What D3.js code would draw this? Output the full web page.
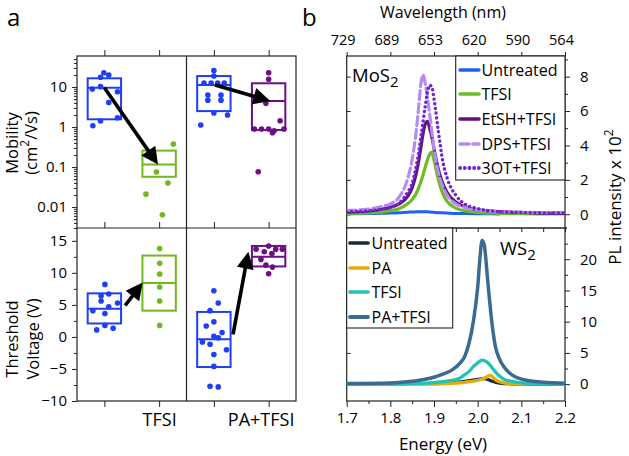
<!DOCTYPE html>
<html><head><meta charset="utf-8">
<script src="https://cdn.jsdelivr.net/npm/d3@7"></script>
<style>body{margin:0;background:#fff}svg text{font-family:"Open Sans","Noto Sans",sans-serif;fill:#000}</style>
</head><body><svg id="c" width="629" height="456"></svg>
<script>
// ---------- Panel a data ----------
const groupNames = ["Untreated", "TFSI", "Untreated", "PA+TFSI"];
const groupColors = ["#1f3ff4", "#70b81f", "#1f3ff4", "#6c1088"];
const xCategoryLabels = ["", "TFSI", "", "PA+TFSI"];
// [jitter (category units), value]
const mobUntreated1 = [[-0.01,22.8],[0.08,20],[-0.07,17.5],[-0.22,8.9],[-0.07,10.2],[0.24,7.6],[0.08,4.1],[-0.07,1.41],[0.24,1.7],[-0.21,1.08]];
const mobTFSI = [[0.26,0.376],[-0.05,0.075],[0.16,0.04],[-0.24,0.021],[0.06,0.0064]];
const mobUntreated2 = [[0,25.9],[0,18.8],[-0.18,12.6],[-0.05,12.6],[0.07,12.6],[0.19,12.6],[-0.11,6.3],[-0.11,4.7],[0.13,6.3],[0.13,4.7],[0,2.24],[0.25,2.0],[-0.24,1.12]];
const mobPATFSI = [[0,22.8],[0,15.6],[-0.05,3.9],[0.21,1.43],[-0.26,0.89],[-0.13,0.89],[0,0.89],[0.1,0.81],[0.07,0.72],[0.28,0.89],[-0.19,0.076]];
const mobBoxes = [[1.56,9.6,16.5],[0.057,0.115,0.257],[2.5,11.2,18.8],[0.84,4.5,12.4]];
const mobArrows = [[[0,9.6],[0.98,0.115]],[[2.02,11.2],[3.03,4.5]]];
const mobTicks = [0.01,0.1,1,10];
const mobTickLabels = ["0.01","0.1","1","10"];

const vtUntreated1 = [[0.01,8.2],[-0.06,6.4],[0.08,6.7],[-0.06,5.6],[0.24,5.3],[0.08,4.7],[-0.21,4.1],[0.01,3.65],[0.01,1.8],[-0.14,1.1],[0.16,1.35]];
const vtTFSI = [[0.01,13.8],[0.01,11.5],[0.01,9.8],[0.01,7.8],[0.01,5.6],[0.01,1.8]];
const vtUntreated2 = [[0,7.2],[0.08,5.3],[-0.07,4.1],[0,2.35],[-0.14,1.7],[0.15,0.7],[0,0.1],[0.08,-0.15],[-0.21,-0.8],[-0.07,-1.14],[0.23,-2],[0,-2.75],[0,-4.6],[-0.07,-7.7],[0.08,-7.8]];
const vtPATFSI = [[-0.23,13.7],[-0.08,13.3],[0,14.2],[0.13,13.7],[0.25,13.7],[0.06,13.0],[-0.14,12.1],[-0.05,11.2],[0.07,10.9],[0,9.85]];
const vtBoxes = [[2.1,4.4,6.8],[4.1,8.4,12.7],[-4.7,-0.36,3.9],[11.0,12.5,14.2]];
const vtArrows = [[[0.38,4.9],[0.70,8.5]],[[2.35,0.4],[2.63,13.3]]];
const vtTicks = [-10,-5,0,5,10,15];

// ---------- Panel b data ----------
const energyTicks = [1.7,1.8,1.9,2.0,2.1,2.2];
const wavelengthLabels = ["729","689","653","620","590","564"];
const mosEnergy = [1.70,1.75,1.78,1.80,1.82,1.84,1.85,1.86,1.865,1.87,1.875,1.88,1.885,1.89,1.895,1.90,1.91,1.92,1.93,1.95,1.97,2.00,2.05,2.10,2.15,2.20];
const mosUntreated = [0.02,0.04,0.06,0.07,0.09,0.12,0.13,0.14,0.15,0.15,0.15,0.14,0.14,0.13,0.12,0.11,0.09,0.08,0.07,0.05,0.04,0.03,0.02,null,null,null];
const mosTFSI = [0.05,0.08,0.12,0.2,0.32,0.62,0.85,1.25,1.55,1.9,2.3,2.75,3.15,3.5,3.6,3.15,2.0,1.2,0.75,0.36,0.2,0.1,0.05,0.03,0.02,0.02];
const mosEtSH = [0.12,0.2,0.3,0.4,0.6,1.05,1.55,2.45,3.1,3.9,4.7,5.25,5.4,5.0,4.5,3.8,2.6,1.8,1.26,0.71,0.44,0.26,0.15,0.1,0.07,0.05];
const mosDPS = [0.22,0.3,0.45,0.6,1.0,2.1,3.2,5.0,6.3,7.6,8.1,7.6,6.8,5.8,4.8,3.8,2.4,1.6,1.1,0.6,0.4,0.25,0.15,0.12,0.1,0.1];
const mos3OT = [0.15,0.2,0.3,0.4,0.65,1.3,1.8,2.9,3.6,4.5,5.4,6.3,7.1,7.5,7.4,6.7,4.8,3.1,2.1,1.1,0.6,0.33,0.15,0.1,0.08,0.07];
const mosNames = ["Untreated","TFSI","EtSH+TFSI","DPS+TFSI","3OT+TFSI"];
const mosColors = ["#2160f0","#6abd22","#5f1578","#b98af0","#7024d2"];

const wsEnergy = [1.70,1.80,1.85,1.90,1.92,1.94,1.96,1.97,1.98,1.99,2.00,2.005,2.01,2.015,2.02,2.025,2.03,2.035,2.04,2.05,2.06,2.07,2.08,2.10,2.15,2.20];
const wsUntreated = [0.03,0.05,0.07,0.1,0.14,0.2,0.35,0.45,0.55,0.65,0.75,0.82,0.87,0.9,0.85,0.7,0.55,0.42,0.32,0.18,0.1,0.07,0.05,0.03,0.02,0.02];
const wsPA = [0.03,0.04,0.04,0.05,0.08,0.12,0.22,0.3,0.4,0.5,0.6,0.7,0.8,0.95,1.1,1.35,1.4,1.1,0.75,0.4,0.2,0.12,0.08,0.05,0.03,0.03];
const wsTFSI = [0.05,0.08,0.1,0.25,0.4,0.6,1.0,1.5,2.0,2.8,3.4,3.7,3.85,3.75,3.6,3.3,2.9,2.45,2.0,1.3,0.8,0.55,0.4,0.2,0.08,0.05];
const wsPATFSI = [0.1,0.2,0.45,1.1,1.6,2.2,3.4,4.4,6.5,10.0,15.5,20.0,23.0,22.3,19.0,15.0,11.5,8.5,6.2,4.0,2.8,2.0,1.4,0.8,0.3,0.15];
const wsNames = ["Untreated","PA","TFSI","PA+TFSI"];
const wsColors = ["#1e2a3a","#e3ad0f","#20c3b9","#3b6b91"];

const svg = d3.select("#c");

// ---------- Panel a ----------
const ax = d3.scaleLinear().domain([-0.5,3.5]).range([77,296]);
const yMob = d3.scaleLog().domain([0.00299,59.6]).range([228,56]);
const yVt = d3.scaleLinear().domain([-10,17]).range([401,228]);

function styleAxis(g, fs){
  g.select(".domain").remove();
  g.selectAll("line").attr("stroke","#222").attr("stroke-width",1);
  g.selectAll("text").attr("font-size",fs).attr("fill","#000").attr("font-family",'"Open Sans","Noto Sans",sans-serif');
}

const mobMinor = [];
[0.001,0.01,0.1,1,10].forEach(d=>{for(let k=2;k<=9;k++){const v=d*k; if(v>=0.003 && v<=59) mobMinor.push(v);}});
styleAxis(svg.append("g").attr("transform","translate(77,0)").call(d3.axisLeft(yMob).tickValues(mobMinor).tickSize(3).tickFormat("")),15);
styleAxis(svg.append("g").attr("transform","translate(77,0)").call(d3.axisLeft(yMob).tickValues(mobTicks).tickSize(5).tickPadding(5).tickFormat((d,i)=>mobTickLabels[i])),15);
const vtMinor = d3.range(-7.5,17,5);
styleAxis(svg.append("g").attr("transform","translate(77,0)").call(d3.axisLeft(yVt).tickValues(vtMinor).tickSize(3).tickFormat("")),15);
styleAxis(svg.append("g").attr("transform","translate(77,0)").call(d3.axisLeft(yVt).tickValues(vtTicks).tickSize(5).tickPadding(5)),15);
const cats = [0,1,2,3];
styleAxis(svg.append("g").attr("transform","translate(0,56)").call(d3.axisTop(ax).tickValues(cats).tickSize(6).tickFormat("")),15);
styleAxis(svg.append("g").attr("transform","translate(0,228)").call(d3.axisTop(ax).tickValues(cats).tickSize(6).tickFormat("")),15);
const xb = svg.append("g").attr("transform","translate(0,401)").call(d3.axisBottom(ax).tickValues(cats).tickSize(6).tickPadding(6).tickFormat((d,i)=>xCategoryLabels[i]));
styleAxis(xb,18);
xb.selectAll("text").filter((d)=>d===3).attr("dx",-8);

svg.append("rect").attr("x",77).attr("y",56).attr("width",219).attr("height",345).attr("fill","none").attr("stroke","#222").attr("stroke-width",1.2);
svg.append("line").attr("x1",77).attr("x2",296).attr("y1",228).attr("y2",228).attr("stroke","#222").attr("stroke-width",1.2);
svg.append("line").attr("x1",ax(1.5)).attr("x2",ax(1.5)).attr("y1",56).attr("y2",401).attr("stroke","#222").attr("stroke-width",1.2);

function drawGroups(yS, groups, boxes){
  const g = svg.append("g");
  groups.forEach((pts,i)=>{
    const c = groupColors[i], b = boxes[i];
    const x0 = ax(i-0.305), x1 = ax(i+0.305);
    g.append("rect").attr("x",x0).attr("width",x1-x0).attr("y",yS(b[2])).attr("height",yS(b[0])-yS(b[2]))
      .attr("fill","none").attr("stroke",c).attr("stroke-width",2);
    g.append("line").attr("x1",x0).attr("x2",x1).attr("y1",yS(b[1])).attr("y2",yS(b[1])).attr("stroke",c).attr("stroke-width",2);
    g.selectAll(null).data(pts).enter().append("circle")
      .attr("cx",d=>ax(i+d[0])).attr("cy",d=>yS(d[1])).attr("r",2.8).attr("fill",c);
  });
}
function drawArrows(yS, arrows){
  arrows.forEach(a=>{
    const x1=ax(a[0][0]), y1=yS(a[0][1]), x2=ax(a[1][0]), y2=yS(a[1][1]);
    const dx=x2-x1, dy=y2-y1, L=Math.hypot(dx,dy), ux=dx/L, uy=dy/L;
    const hl=17, hw=8.5, bx=x2-ux*hl, by=y2-uy*hl;
    svg.append("line").attr("x1",x1).attr("y1",y1).attr("x2",bx+ux*3).attr("y2",by+uy*3).attr("stroke","#000").attr("stroke-width",3.6);
    svg.append("path").attr("d",`M${x2},${y2}L${bx-uy*hw},${by+ux*hw}L${bx+uy*hw},${by-ux*hw}Z`).attr("fill","#000");
  });
}
drawGroups(yMob,[mobUntreated1,mobTFSI,mobUntreated2,mobPATFSI],mobBoxes);
drawGroups(yVt,[vtUntreated1,vtTFSI,vtUntreated2,vtPATFSI],vtBoxes);
drawArrows(yMob,mobArrows);
drawArrows(yVt,vtArrows);

function vtext(x,y,txt,fs){ return svg.append("text").attr("transform",`translate(${x},${y}) rotate(-90)`).attr("text-anchor","middle").attr("font-size",fs).text(txt); }
vtext(17.5,143,"Mobility",16.5);
const mt = svg.append("text").attr("transform","translate(37,143) rotate(-90)").attr("text-anchor","middle").attr("font-size",16.5);
mt.append("tspan").text("(cm");
mt.append("tspan").attr("baseline-shift","super").attr("font-size",12).text("2");
mt.append("tspan").text("/Vs)");
vtext(18,339,"Threshold",16.5);
vtext(39,339,"Voltage (V)",16.5);
svg.append("text").attr("x",7).attr("y",26).attr("font-size",24).text("a");
svg.append("text").attr("x",302).attr("y",26).attr("font-size",24).text("b");

// ---------- Panel b ----------
const bx = d3.scaleLinear().domain([1.7,2.2]).range([346.7,565]);
const yTop = d3.scaleLinear().domain([-0.8,9.2]).range([228,56]);
const yBot = d3.scaleLinear().domain([-2.7,25]).range([401,228]);

styleAxis(svg.append("g").attr("transform","translate(565,0)").call(d3.axisRight(yTop).tickValues([1,3,5,7,9]).tickSize(3).tickFormat("")),15);
styleAxis(svg.append("g").attr("transform","translate(565,0)").call(d3.axisRight(yTop).tickValues([0,2,4,6,8]).tickSize(5).tickPadding(10)),15);
styleAxis(svg.append("g").attr("transform","translate(565,0)").call(d3.axisRight(yBot).tickValues([2.5,7.5,12.5,17.5,22.5]).tickSize(3).tickFormat("")),15);
styleAxis(svg.append("g").attr("transform","translate(565,0)").call(d3.axisRight(yBot).tickValues([0,5,10,15,20]).tickSize(5).tickPadding(10)),15);
styleAxis(svg.append("g").attr("transform","translate(346.7,0)").call(d3.axisRight(yTop).tickValues([0,2,4,6,8]).tickSize(4).tickFormat("")),15);
styleAxis(svg.append("g").attr("transform","translate(346.7,0)").call(d3.axisRight(yBot).tickValues([0,5,10,15,20]).tickSize(4).tickFormat("")),15);
const eMinor = d3.range(1.75,2.2,0.1);
styleAxis(svg.append("g").attr("transform","translate(0,401)").call(d3.axisBottom(bx).tickValues(eMinor).tickSize(3).tickFormat("")),15);
styleAxis(svg.append("g").attr("transform","translate(0,401)").call(d3.axisBottom(bx).tickValues(energyTicks).tickSize(6).tickPadding(5).tickFormat(d3.format(".1f"))),15);
styleAxis(svg.append("g").attr("transform","translate(0,228)").call(d3.axisBottom(bx).tickValues(energyTicks.concat(eMinor)).tickSize(4).tickFormat("")),15);
const topAx = svg.append("g").attr("transform","translate(0,56)").call(d3.axisTop(bx).tickValues(energyTicks).tickSize(4).tickPadding(7).tickFormat((d,i)=>wavelengthLabels[i]));
styleAxis(topAx,14.5);
topAx.selectAll("text").attr("dx",-4);

svg.append("rect").attr("x",346.7).attr("y",56).attr("width",565-346.7).attr("height",345).attr("fill","none").attr("stroke","#222").attr("stroke-width",1.2);
svg.append("line").attr("x1",346.7).attr("x2",567).attr("y1",228).attr("y2",228).attr("stroke","#222").attr("stroke-width",1.4);

const defs = svg.append("defs");
defs.append("clipPath").attr("id","clipTop").append("rect").attr("x",346.7).attr("y",56).attr("width",218.3).attr("height",172);
defs.append("clipPath").attr("id","clipBot").append("rect").attr("x",346.7).attr("y",228).attr("width",218.3).attr("height",173);

function drawCurves(yS, energy, series, colors, styles, clip){
  const g = svg.append("g").attr("clip-path",`url(#${clip})`);
  series.forEach((vals,i)=>{
    const line = d3.line().defined(d=>d[1]!=null).x(d=>bx(d[0])).y(d=>yS(d[1])).curve(d3.curveMonotoneX);
    const p = g.append("path").attr("d",line(energy.map((e,j)=>[e,vals[j]])))
      .attr("fill","none").attr("stroke",colors[i]).attr("stroke-width",styles[i].w).attr("stroke-linejoin","round").attr("stroke-linecap","round");
    if(styles[i].dash) p.attr("stroke-dasharray",styles[i].dash);
  });
}
const mosStyles = [{w:3},{w:3.2},{w:3.2},{w:3.2,dash:"9 4"},{w:3.4,dash:"0.1 4.6"}];
drawCurves(yTop, mosEnergy, [mosUntreated,mosTFSI,mosEtSH,mosDPS,mos3OT], mosColors, mosStyles, "clipTop");
const wsStyles = [{w:3.3},{w:3.3},{w:3.3},{w:3.5}];
drawCurves(yBot, wsEnergy, [wsUntreated,wsPA,wsTFSI,wsPATFSI], wsColors, wsStyles, "clipBot");

function legend(x, y, w, h, names, colors, styles, sx0, sx1, tx, rowY){
  svg.append("rect").attr("x",x).attr("y",y).attr("width",w).attr("height",h).attr("fill","#fff").attr("stroke","#222").attr("stroke-width",1.1);
  names.forEach((n,i)=>{
    const l = svg.append("line").attr("x1",sx0).attr("x2",sx1).attr("y1",rowY[i]).attr("y2",rowY[i]).attr("stroke",colors[i]).attr("stroke-width",styles[i].w+0.4).attr("stroke-linecap","round");
    if(styles[i].dash) l.attr("stroke-dasharray",styles[i].dash);
    svg.append("text").attr("x",tx).attr("y",rowY[i]+6).attr("font-size",16).text(n);
  });
}
legend(455.7,56,109.3,124,mosNames,mosColors,mosStyles,460,479,481.5,[70,94,119,144,168]);
legend(346.7,228,106,100,wsNames,wsColors,wsStyles,350,368,371.5,[243,268,292,317]);

const mo = svg.append("text").attr("x",352).attr("y",82).attr("font-size",18.5);
mo.append("tspan").text("MoS");
mo.append("tspan").attr("dy",5).attr("font-size",15).text("2");
const ws = svg.append("text").attr("x",500).attr("y",255).attr("font-size",18.5);
ws.append("tspan").text("WS");
ws.append("tspan").attr("dy",5).attr("font-size",15).text("2");
svg.append("text").attr("x",443).attr("y",450).attr("text-anchor","middle").attr("font-size",17).text("Energy (eV)");
svg.append("text").attr("x",443).attr("y",18).attr("text-anchor","middle").attr("font-size",16).text("Wavelength (nm)");
const pl = svg.append("text").attr("transform","translate(621,197) rotate(-90)").attr("text-anchor","middle").attr("font-size",17);
pl.append("tspan").text("PL intensity x 10");
pl.append("tspan").attr("baseline-shift","super").attr("font-size",12).text("2");
</script></body></html>
